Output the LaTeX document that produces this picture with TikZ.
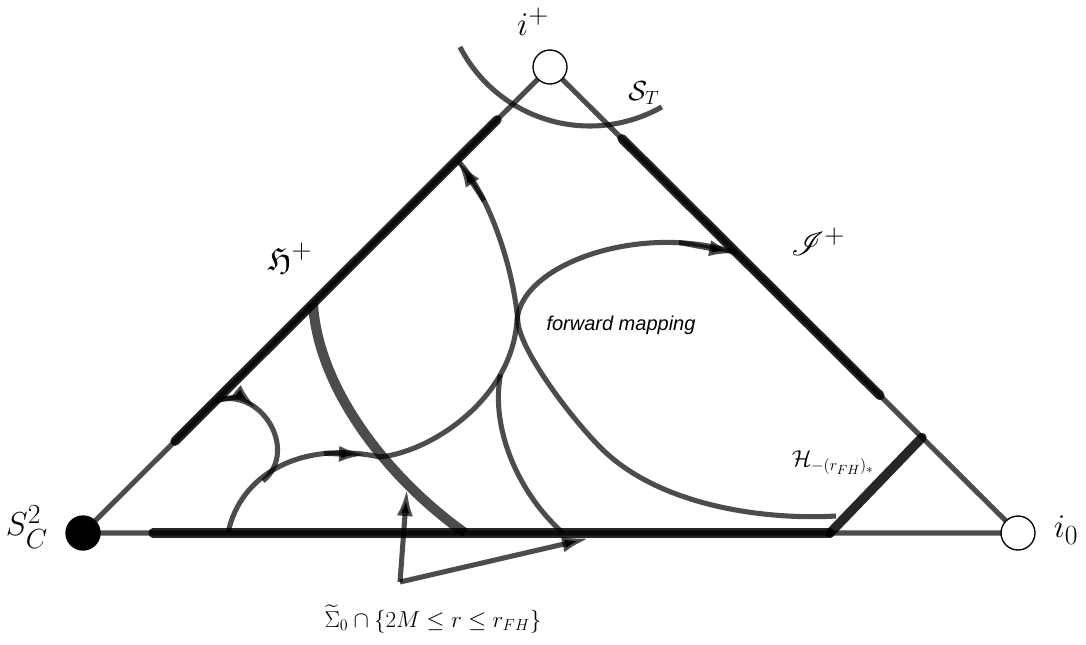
\documentclass[tikz,border=0pt]{standalone}
\usepackage{amsmath,amssymb,mathrsfs}
\usepackage{fontspec}
\newfontfamily\fmfont{Liberation Sans}
\usetikzlibrary{arrows.meta,calc}
\begin{document}
\begin{tikzpicture}[x=0.75pt,y=-0.75pt,
  edge/.style={line width=3.8pt, draw=black, draw opacity=0.7},
  heavy/.style={line width=7pt, draw=black, draw opacity=0.85, line cap=round},
  flow/.style={line width=3.8pt, draw=black, draw opacity=0.7},
  surface/.style={line width=7.5pt, draw=black, draw opacity=0.7},
  tipped/.style={-{Latex[length=21pt,width=12pt]}},
  pt/.style={circle, draw=black, line width=1pt, minimum size=25.5pt, inner sep=0pt},
  lbl/.style={inner sep=0pt}]
\useasboundingbox (0,0) rectangle (1086,644);

\coordinate (SC) at (83,533);
\coordinate (IP) at (550,67);
\coordinate (I0) at (1018,533);

% triangle
\draw[edge] (SC) -- (IP) -- (I0) -- cycle;

% heavy segments
\draw[heavy] ($(SC)!0.197!(IP)$) -- ($(SC)!0.8865!(IP)$);
\draw[heavy] ($(IP)!0.154!(I0)$) -- ($(IP)!0.705!(I0)$);
\coordinate (Hb) at (830,533);
\coordinate (Ht) at ($(IP)!0.795!(I0)$);
\draw[heavy] (153,533) -- (Hb);
\draw[heavy] (Hb) -- (Ht);

% S_T arc
\draw[flow] plot[domain=152.7:60.4, samples=50] ({589.7+146*cos(\x)},{-20+146*sin(\x)});

% thick surface arc
\coordinate (Sa) at ($(SC)!0.4925!(IP)$);
\coordinate (Sb) at (465,533);
\draw[surface] (Sa) .. controls (318,390) and (390,480) .. (Sb);

% small arc P
\coordinate (Pa) at ($(SC)!0.283!(IP)$);
\coordinate (Pb) at (263,481);
\draw[flow] (Pa) .. controls (260,385) and (300,450) .. (Pb);
\draw[flow,tipped] (Pa) .. controls (230.75,395.4) and (245.9,399.7) .. (257.3,409);

% curve Q
\coordinate (Qa) at (228,533);
\coordinate (Qb) at (380,457);
\draw[flow] (Qa) .. controls (240,475) and (300,440) .. (Qb);
\draw[flow,tipped] (324,453.3) -- (367,455);

% curve A (to I+)
\coordinate (Ae) at ($(IP)!0.40!(I0)$);
\coordinate (Am) at (517,320);
\draw[flow] (Qb) .. controls (430,452) and (512,400) .. (Am)
                 .. controls (522,262) and (645,222) .. (Ae);
\draw[flow,tipped] (679,242.5) -- (Ae);

% curve B (to H+)
\coordinate (Ba) at (836,516);
\coordinate (Be) at ($(SC)!0.8009!(IP)$);
\draw[flow] (Ba) .. controls (770,520) and (660,508) .. (600,447)
                 .. controls (570,416.5) and (522,353) .. (518,323)
                 .. controls (514,270) and (490,195) .. (Be);
\draw[flow,tipped] (484,200.6) -- (Be);

% curve C
\coordinate (Ca) at (563,533);
\coordinate (Cb) at (500.5,374.5);
\draw[flow] (Ca) .. controls (520,495) and (490,430) .. (Cb);

% annotation arrows
\coordinate (L) at (400,582);
\coordinate (La) at (407,488);
\coordinate (Lb) at (590,538);
\draw[flow,tipped] (L) -- (La);
\draw[flow,tipped] (L) -- (Lb);

% points
\node[pt, fill=black] (sc) at (SC) {};
\node[pt, fill=white] (ip) at (IP) {};
\node[pt, fill=white] (iz) at (I0) {};

% labels
\node[lbl, font=\Huge] (lsc) at (27,527) {$S^2_C$};
\node[lbl, font=\Huge] (liz) at (1066,530) {$i_0$};
\node[lbl, font=\Huge] (lip) at (533,22) {$i^+$};
\node[lbl, font=\huge] (lst) at (644,93) {$\mathcal{S}_T$};
\node[lbl, font=\Huge] (lscri) at (818,242) {$\mathscr{I}^+$};
\node[lbl, font=\Huge] (lhor) at (290,258) {$\mathfrak{H}^+$};
\node[lbl, font=\LARGE] (lh) at (833,463) {$\mathcal{H}_{-(r_{FH})_*}$};
\node[lbl, font=\fmfont\itshape\fontsize{15}{18}\selectfont] (lfm) at (621,325) {forward mapping};
\node[lbl, font=\LARGE] (lsig) at (433,619) {$\widetilde{\Sigma}_0\cap\{2M\leq r\leq r_{FH}\}$};
\end{tikzpicture}
\end{document}
